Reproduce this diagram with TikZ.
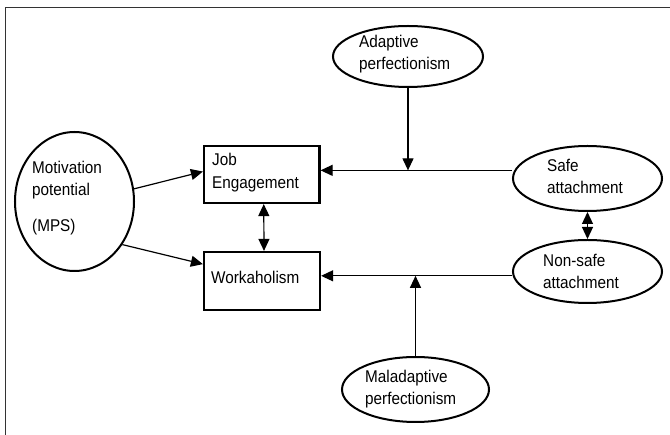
\documentclass[tikz,border=0pt]{standalone}
\usepackage{fontspec}
\setmainfont{Liberation Sans}[FakeStretch=0.9]
\usetikzlibrary{arrows.meta,calc,shapes.geometric}
\begin{document}
\begin{tikzpicture}[x=1pt,y=-1pt,
  ell/.style={draw, line width=2pt, ellipse, inner sep=0pt},
  box/.style={draw, line width=2.2pt, rectangle, inner sep=0pt},
  lbl/.style={anchor=base west, inner sep=0pt, align=left, font=\fontsize{17}{22}\selectfont},
  arr/.style={line width=1.2pt, -{Triangle[length=12pt,width=11pt]}},
  darr/.style={line width=1.2pt, {Triangle[length=12pt,width=11pt]}-{Triangle[length=12pt,width=11pt]}},
  frame/.style={line width=1.5pt, black!80}
]
\useasboundingbox (0,0) rectangle (670,435);
\draw[frame] (5.5,435) -- (5.5,7.5) -- (670,7.5);

\node[ell, minimum width=119pt, minimum height=139pt] (mot) at (74.5,201.5) {};
\node[box, minimum width=115.5pt, minimum height=57pt] (je) at (261.75,174.5) {};
\node[box, minimum width=116pt, minimum height=58pt] (wk) at (262,281) {};
\node[ell, minimum width=150pt, minimum height=61pt] (ap) at (408,56.5) {};
\node[ell, minimum width=149pt, minimum height=65pt] (sa) at (587.5,178.5) {};
\node[ell, minimum width=149pt, minimum height=63pt] (ns) at (587.5,271.5) {};
\node[ell, minimum width=147pt, minimum height=65pt] (mal) at (415.5,389.5) {};

% base anchor = baseline of the last line
\node[lbl] (tmot) at (32,231.7) {Motivation\\potential\\[14pt](MPS)};
\node[lbl] (tje) at (212,188.3) {Job\\[1pt]Engagement};
\node[lbl] (twk) at (211,284) {Workaholism};
\node[lbl] (tap) at (359,70) {Adaptive\\perfectionism};
\node[lbl] (tsa) at (547,193.3) {Safe\\attachment};
\node[lbl] (tns) at (543,288.3) {Non-safe\\attachment};
\node[lbl] (tmal) at (365,405) {Maladaptive\\perfectionism};

\coordinate (jein) at ($(je.north east)!0.43!(je.south east)$);
\coordinate (wkin) at ($(wk.north east)!0.414!(wk.south east)$);

\draw[arr] (mot.12) -- ($(je.north west)!0.45!(je.south west)$);
\draw[arr] (mot.-42) -- ($(wk.north west)!0.22!(wk.south west)$);
\draw[darr] ($(je.south)+(2,0)$) -- ($(wk.north)+(2,0)$);
\draw[arr] (sa.west |- jein) -- (jein);
\draw[arr] (ap.south) -- (ap.south |- jein);
\draw[arr] (ns.west |- wkin) -- (wkin);
\draw[arr] (mal.north) -- (mal.north |- wkin);
\draw[darr] (sa.south) -- (ns.north);
\end{tikzpicture}
\end{document}
